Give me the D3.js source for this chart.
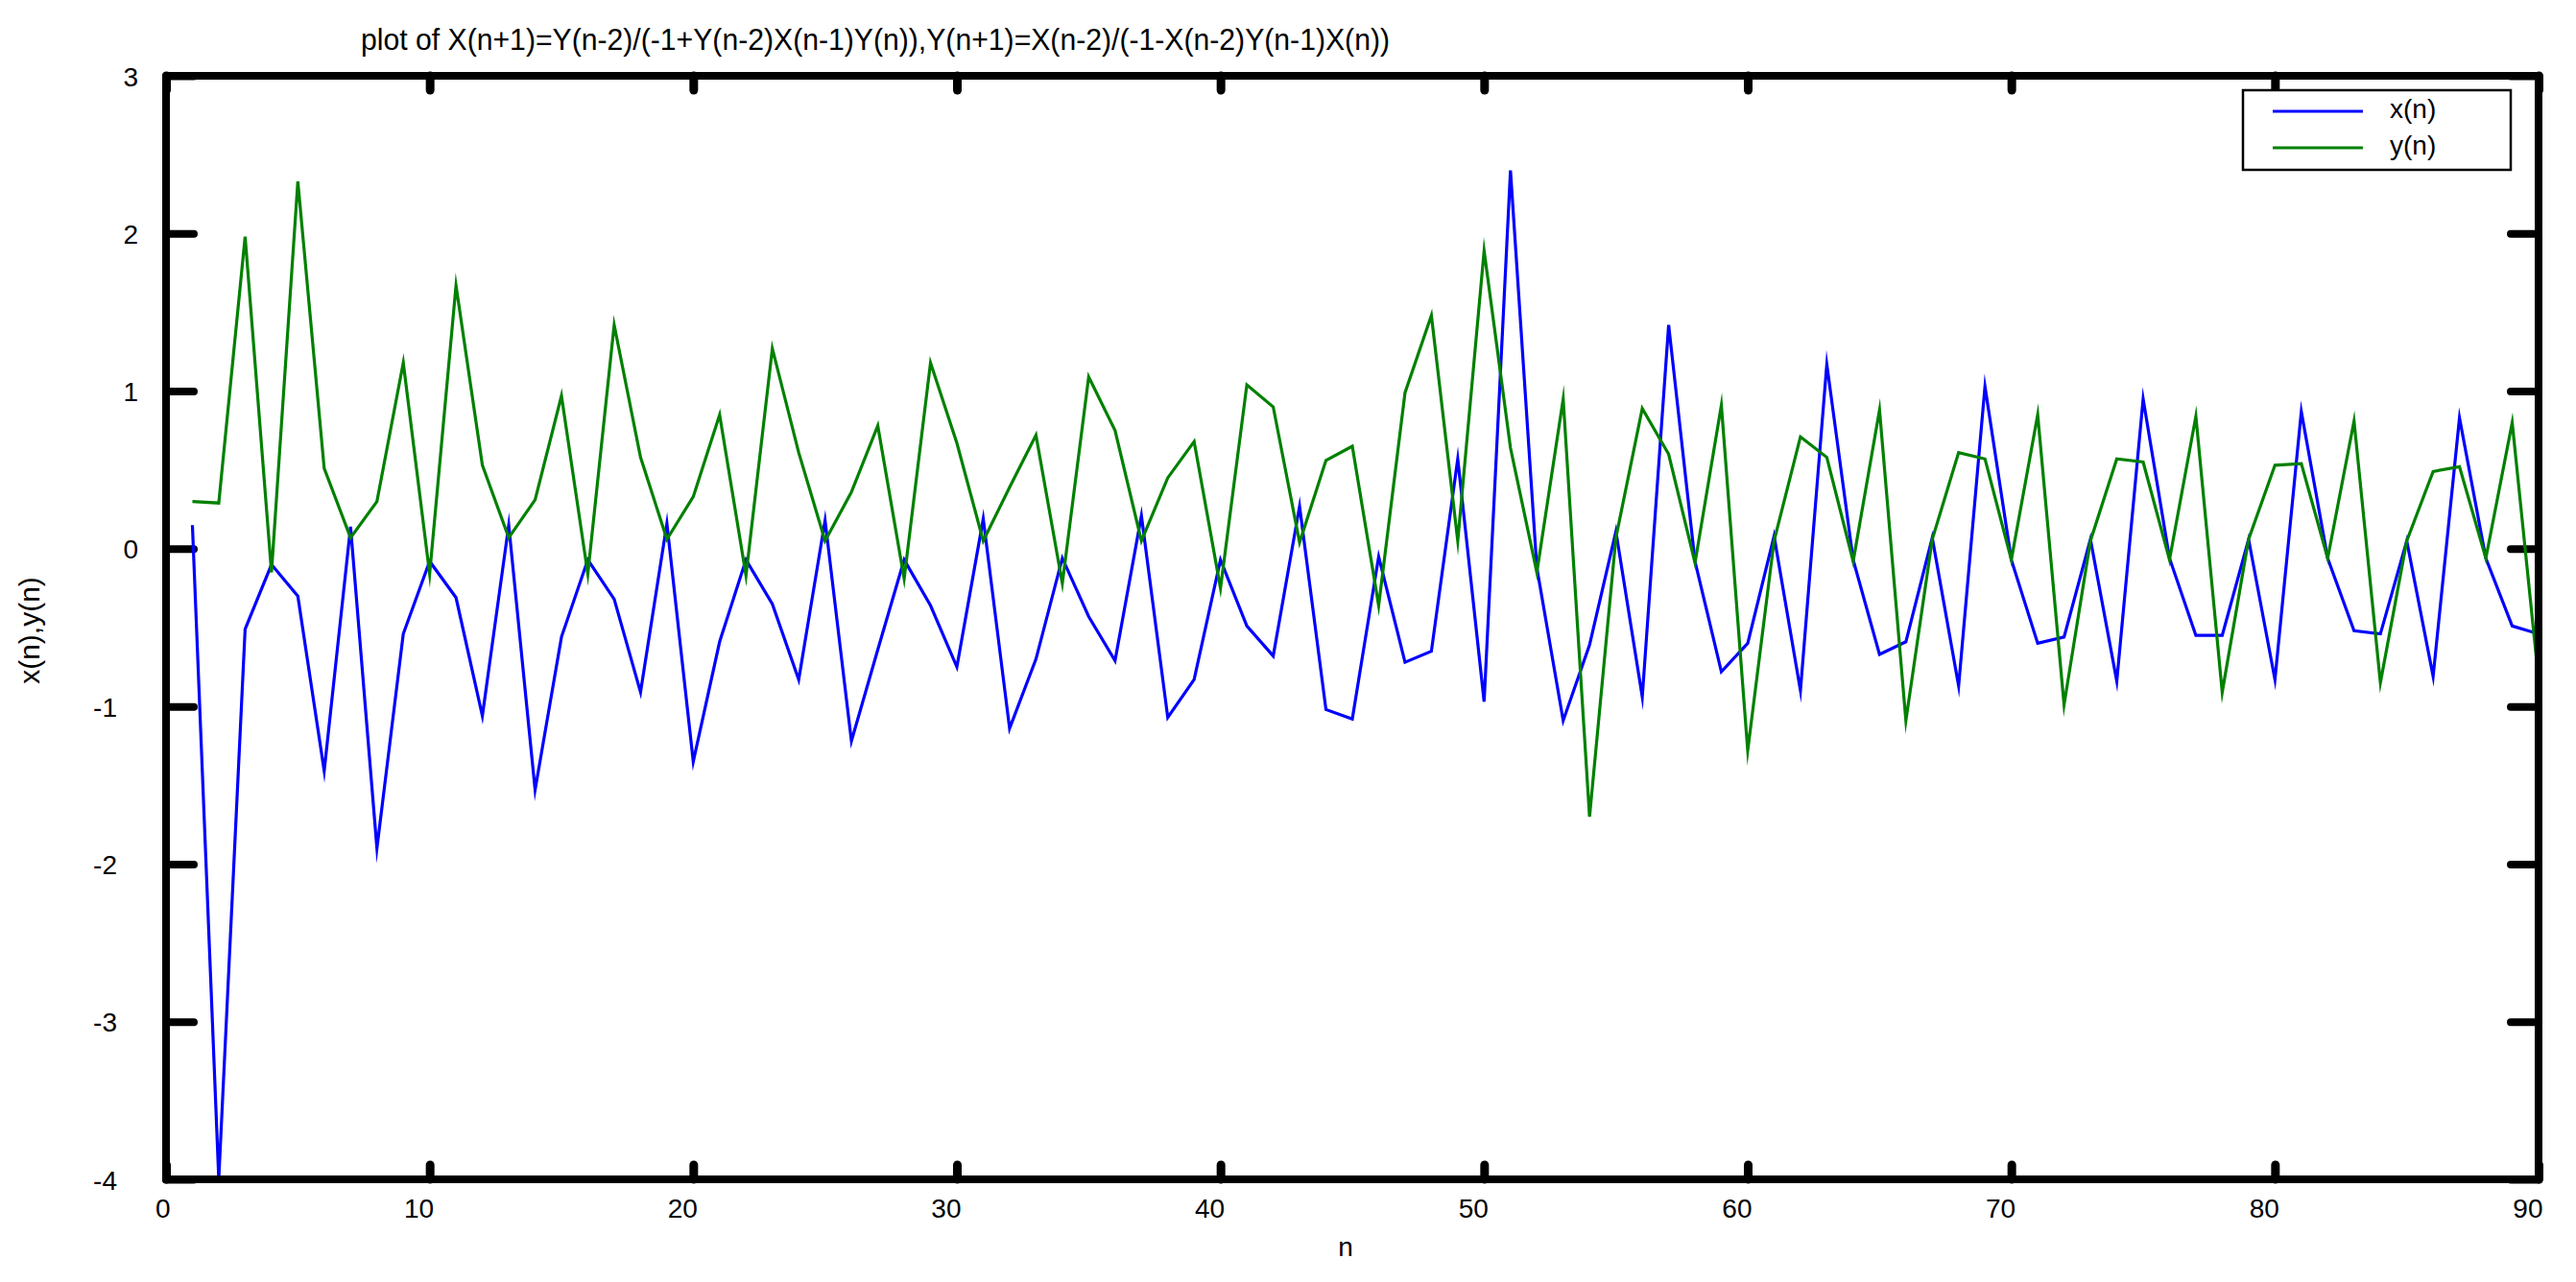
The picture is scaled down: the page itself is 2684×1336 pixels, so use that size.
<!DOCTYPE html>
<html>
<head>
<meta charset="utf-8">
<script src="https://cdn.jsdelivr.net/npm/d3@7"></script>
<style>
  html, body { margin: 0; padding: 0; background: #ffffff; }
  svg { display: block; }
  text { font-family: "Liberation Sans", Arial, Helvetica, sans-serif; fill: #000; }
</style>
</head>
<body>
<svg id="chart" width="2684" height="1336"></svg>
<script>
// ---------------- data ----------------
const titleText = "plot of X(n+1)=Y(n-2)/(-1+Y(n-2)X(n-1)Y(n)),Y(n+1)=X(n-2)/(-1-X(n-2)Y(n-1)X(n))";
const xAxisLabel = "n";
const yAxisLabel = "x(n),y(n)";
const seriesNames = ["x(n)", "y(n)"];

const nValues = [
  1,2,3,4,5,6,7,8,9,10,11,12,13,14,15,16,17,18,19,20,
  21,22,23,24,25,26,27,28,29,30,31,32,33,34,35,36,37,38,39,40,
  41,42,43,44,45,46,47,48,49,50,51,52,53,54,55,56,57,58,59,60,
  61,62,63,64,65,66,67,68,69,70,71,72,73,74,75,76,77,78,79,80,
  81,82,83,84,85,86,87,88,89,90
];

const xSeries = [
   0.15, -4.00, -0.51, -0.10, -0.30, -1.41,  0.14, -1.90, -0.54, -0.08,
  -0.31, -1.06,  0.15, -1.53, -0.56, -0.07, -0.32, -0.91,  0.16, -1.35,
  -0.59, -0.07, -0.35, -0.83,  0.18, -1.22, -0.64, -0.07, -0.36, -0.75,
   0.19, -1.14, -0.70, -0.06, -0.43, -0.71,  0.21, -1.07, -0.83, -0.07,
  -0.49, -0.68,  0.27, -1.02, -1.08, -0.05, -0.72, -0.65,  0.57, -0.97,
   2.40, -0.12, -1.09, -0.61,  0.11, -0.94,  1.42, -0.08, -0.78, -0.60,
   0.08, -0.90,  1.17, -0.07, -0.67, -0.59,  0.07, -0.87,  1.03, -0.07,
  -0.60, -0.56,  0.06, -0.84,  0.95, -0.06, -0.55, -0.55,  0.06, -0.83,
   0.87, -0.06, -0.52, -0.54,  0.05, -0.81,  0.83, -0.06, -0.49, -0.54
];

const ySeries = [
   0.30,  0.29,  1.98, -0.15,  2.33,  0.51,  0.07,  0.30,  1.18, -0.16,
   1.67,  0.53,  0.07,  0.31,  0.97, -0.16,  1.42,  0.58,  0.06,  0.33,
   0.85, -0.17,  1.27,  0.61,  0.05,  0.36,  0.78, -0.19,  1.18,  0.67,
   0.05,  0.39,  0.72, -0.22,  1.09,  0.75,  0.05,  0.45,  0.68, -0.25,
   1.04,  0.90,  0.04,  0.56,  0.65, -0.36,  0.99,  1.48,  0.05,  1.89,
   0.64, -0.15,  0.95, -1.70,  0.07,  0.89,  0.60, -0.09,  0.91, -1.28,
   0.05,  0.71,  0.58, -0.08,  0.88, -1.09,  0.06,  0.61,  0.57, -0.07,
   0.85, -0.99,  0.05,  0.57,  0.55, -0.07,  0.84, -0.91,  0.06,  0.53,
   0.54, -0.06,  0.81, -0.85,  0.05,  0.49,  0.52, -0.06,  0.80, -0.83
];

const xTickValues = [0, 10, 20, 30, 40, 50, 60, 70, 80, 90];
const yTickValues = [-4, -3, -2, -1, 0, 1, 2, 3];
const xDomain = [0, 90];
const yDomain = [-4, 3];
const seriesColors = ["#0000ff", "#008000"];

// ---------------- layout ----------------
const W = 2684, H = 1336;
const plot = { left: 173, right: 2645, top: 79, bottom: 1229 };
const svg = d3.select("#chart");
svg.append("rect").attr("x", 0).attr("y", 0).attr("width", W).attr("height", H).attr("fill", "#fff");

const x = d3.scaleLinear().domain(xDomain).range([plot.left, plot.right]);
const y = d3.scaleLinear().domain(yDomain).range([plot.bottom, plot.top]);
const fmt = v => String(v);   // plain ASCII hyphen-minus, as in the reference

// ---------------- axes (inward ticks on all four sides) ----------------
function styleAxis(g, w) {
  g.select(".domain").remove();
  g.selectAll(".tick line")
    .attr("stroke", "#000")
    .attr("stroke-width", w)
    .attr("stroke-linecap", "round");
}

const gBottom = svg.append("g").attr("transform", `translate(0,${plot.bottom})`)
  .call(d3.axisBottom(x).tickValues(xTickValues).tickSize(-15).tickPadding(0).tickFormat(fmt));
styleAxis(gBottom, 9);
gBottom.selectAll(".tick text")
  .attr("font-size", 28)
  .attr("font-family", "Liberation Sans, Arial, sans-serif")
  .attr("text-anchor", "end")
  .attr("x", 4)
  .attr("y", 40)
  .attr("dy", 0);

const gTop = svg.append("g").attr("transform", `translate(0,${plot.top})`)
  .call(d3.axisTop(x).tickValues(xTickValues).tickSize(-15).tickFormat(""));
styleAxis(gTop, 9);

const gLeft = svg.append("g").attr("transform", `translate(${plot.left},0)`)
  .call(d3.axisLeft(y).tickValues(yTickValues).tickSize(-29).tickPadding(0).tickFormat(fmt));
styleAxis(gLeft, 8);
gLeft.selectAll(".tick text")
  .attr("font-size", 28)
  .attr("font-family", "Liberation Sans, Arial, sans-serif")
  .attr("text-anchor", "end")
  .attr("x", d => d < 0 ? -51 : -29)
  .attr("dy", "0.36em");

const gRight = svg.append("g").attr("transform", `translate(${plot.right},0)`)
  .call(d3.axisRight(y).tickValues(yTickValues).tickSize(-29).tickFormat(""));
styleAxis(gRight, 8);

// ---------------- data lines ----------------
const line = d3.line().x((d, i) => x(nValues[i])).y(d => y(d));
svg.append("clipPath").attr("id", "plotclip")
  .append("rect").attr("x", plot.left).attr("y", plot.top - 4)
  .attr("width", plot.right - plot.left).attr("height", plot.bottom - plot.top + 8);

const gLines = svg.append("g").attr("clip-path", "url(#plotclip)");
[xSeries, ySeries].forEach((s, k) => {
  gLines.append("path")
    .datum(s)
    .attr("fill", "none")
    .attr("stroke", seriesColors[k])
    .attr("stroke-width", 3.2)
    .attr("stroke-linejoin", "miter")
    .attr("stroke-miterlimit", 10)
    .attr("d", line);
});

// ---------------- frame ----------------
svg.append("rect")
  .attr("x", plot.left).attr("y", plot.top)
  .attr("width", plot.right - plot.left).attr("height", plot.bottom - plot.top)
  .attr("fill", "none").attr("stroke", "#000").attr("stroke-width", 8)
  .attr("stroke-linejoin", "round");

// ---------------- legend ----------------
const lg = svg.append("g");
lg.append("rect").attr("x", 2337).attr("y", 94).attr("width", 279).attr("height", 83)
  .attr("fill", "#fff").attr("stroke", "#000").attr("stroke-width", 2.5);
seriesNames.forEach((name, k) => {
  const cy = 116 + k * 38;
  lg.append("line").attr("x1", 2368).attr("x2", 2462).attr("y1", cy).attr("y2", cy)
    .attr("stroke", seriesColors[k]).attr("stroke-width", 3);
  lg.append("text").attr("x", 2490).attr("y", cy + 7).attr("font-size", 28).text(name);
});

// ---------------- titles ----------------
svg.append("text")
  .attr("x", 912).attr("y", 52)
  .attr("text-anchor", "middle")
  .attr("font-size", 32)
  .attr("textLength", 1072)
  .attr("lengthAdjust", "spacingAndGlyphs")
  .text(titleText);

svg.append("text")
  .attr("x", 1402).attr("y", 1309)
  .attr("text-anchor", "middle")
  .attr("font-size", 28)
  .text(xAxisLabel);

svg.append("text")
  .attr("transform", "translate(41,657) rotate(-90)")
  .attr("text-anchor", "middle")
  .attr("font-size", 30)
  .text(yAxisLabel);
</script>
</body>
</html>
